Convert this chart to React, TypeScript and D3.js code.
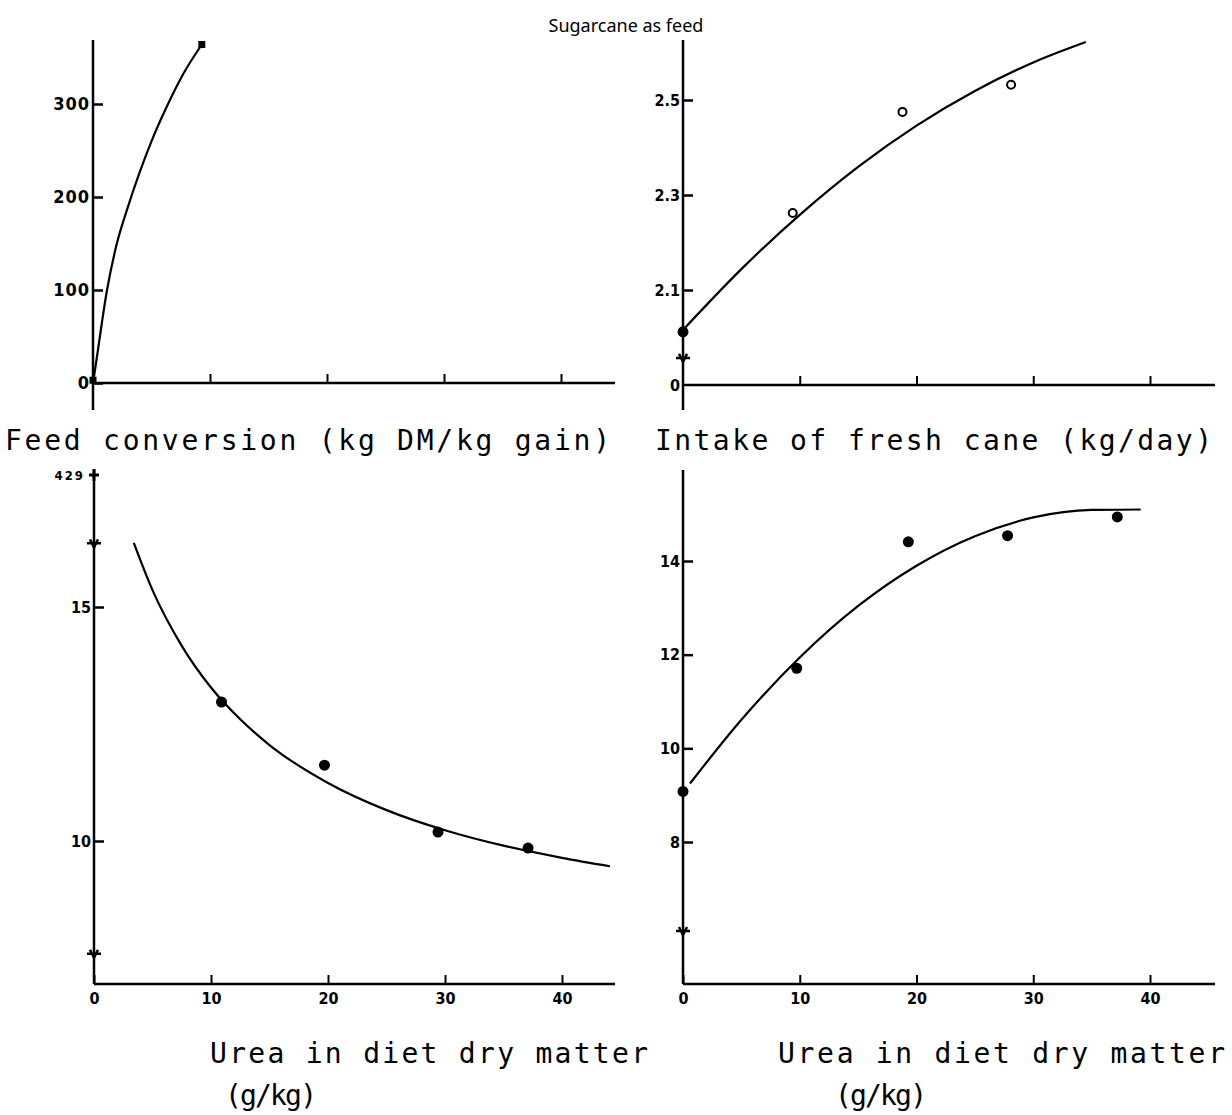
import React, { useEffect, useRef } from 'react';
import * as d3 from 'd3';

const TITLE = 'Sugarcane as feed';
const ureaTicks = [0, 10, 20, 30, 40];

// top left: feed conversion
const fcCurveX = [0, 0.3, 1.2, 2.0, 3.0, 4.0, 5.1, 6.3, 7.7, 9.3];
const fcCurveY = [0, 25, 100, 148, 190, 227, 263, 297, 332, 364];
const fcPointX = [0, 9.3];
const fcPointY = [3, 364];
const fcTicks = [0, 100, 200, 300];

// top right: intake of fresh cane
const inCurveX = [0, 5, 10, 15, 20, 25, 30, 34.5];
const inCurveY = [2.016, 2.144, 2.258, 2.359, 2.446, 2.519, 2.579, 2.622];
const inPointX = [0, 9.4, 18.8, 28.1];
const inPointY = [2.012, 2.262, 2.475, 2.532];
const inTicks = [1.9, 2.1, 2.3, 2.5];
const inTickLabels = ['0', '2.1', '2.3', '2.5'];

// bottom left: feed conversion vs urea
const blCurveX = [3.4, 5, 7.5, 10, 12.5, 15, 20, 25, 30, 35, 40, 44.1];
const blCurveY = [16.37, 15.36, 14.17, 13.28, 12.6, 12.05, 11.24, 10.66, 10.23, 9.9, 9.64, 9.46];
const blPointX = [10.9, 19.7, 29.4, 37.1];
const blPointY = [12.97, 11.62, 10.19, 9.85];
const blTicks = [10, 15];

// bottom right: intake vs urea
const brCurveX = [0.6, 5, 10, 15, 20, 25, 30, 35, 39.2];
const brCurveY = [9.25, 10.61, 11.94, 13.04, 13.9, 14.53, 14.93, 15.09, 15.1];
const brPointX = [0, 9.74, 19.3, 27.8, 37.2];
const brPointY = [9.08, 11.71, 14.41, 14.54, 14.94];
const brTicks = [8, 10, 12, 14];

const zip = (a: number[], b: number[]) => a.map((v, i) => [v, b[i]] as [number, number]);

const panels = [
  {
    x0: 93, x40: 561, xEnd: 615, axisY: 383, yTop: 40, yBottom: 410,
    yRef: [0, 300], yPx: [383, 104],
    ticks: fcTicks, tickLabels: fcTicks.map(String), xLabels: false,
    curve: zip(fcCurveX, fcCurveY), points: zip(fcPointX, fcPointY),
    marker: 'square', breaks: [] as number[],
  },
  {
    x0: 683, x40: 1150, xEnd: 1215, axisY: 385, yTop: 40, yBottom: 410,
    yRef: [2.1, 2.5], yPx: [290, 100],
    ticks: inTicks, tickLabels: inTickLabels, xLabels: false,
    curve: zip(inCurveX, inCurveY), points: zip(inPointX, inPointY),
    marker: 'open', breaks: [1.957],
  },
  {
    x0: 94, x40: 562, xEnd: 615, axisY: 984, yTop: 470, yBottom: 984,
    yRef: [10, 15], yPx: [841, 607],
    ticks: blTicks, tickLabels: blTicks.map(String), xLabels: true,
    curve: zip(blCurveX, blCurveY), points: zip(blPointX, blPointY),
    marker: 'dot', breaks: [16.36, 7.59],
  },
  {
    x0: 683, x40: 1150, xEnd: 1215, axisY: 984, yTop: 470, yBottom: 984,
    yRef: [8, 14], yPx: [842, 561],
    ticks: brTicks, tickLabels: brTicks.map(String), xLabels: true,
    curve: zip(brCurveX, brCurveY), points: zip(brPointX, brPointY),
    marker: 'dot', breaks: [6.1],
  },
];

const monoFont = '"DejaVu Sans Mono", monospace';
const tickFont = '"DejaVu Sans Condensed", "DejaVu Sans", sans-serif';

const App = () => {
  const svgRef = useRef<SVGSVGElement>(null);

  useEffect(() => {
    const svg = d3.select(svgRef.current);
    svg.selectAll('*').remove();

    svg.append('text')
      .attr('x', 626).attr('y', 32)
      .attr('text-anchor', 'middle')
      .attr('font-family', '"Noto Sans", "Open Sans", sans-serif')
      .attr('font-size', 18)
      .text(TITLE);

    panels.forEach((p, idx) => {
      const x = d3.scaleLinear().domain([0, 40]).range([p.x0, p.x40]);
      const y = d3.scaleLinear().domain(p.yRef).range(p.yPx);
      const g = svg.append('g');

      // axis lines
      g.append('line')
        .attr('x1', p.x0).attr('x2', p.x0)
        .attr('y1', p.yTop).attr('y2', p.yBottom)
        .attr('stroke', '#000').attr('stroke-width', 2.5);
      g.append('line')
        .attr('x1', p.x0).attr('x2', p.xEnd)
        .attr('y1', p.axisY).attr('y2', p.axisY)
        .attr('stroke', '#000').attr('stroke-width', 2.5);

      // y axis ticks, pointing inward
      const yAxis = g.append('g')
        .attr('transform', `translate(${p.x0},0)`)
        .call(d3.axisLeft(y)
          .tickValues(p.ticks)
          .tickSize(-10)
          .tickSizeOuter(0)
          .tickPadding(3)
          .tickFormat((_d, i) => p.tickLabels[i]));
      yAxis.select('.domain').remove();
      yAxis.selectAll('line').attr('stroke-width', 2.5)
        .attr('display', (d: any) => (idx === 1 && d === 1.9) ? 'none' : null);
      yAxis.selectAll('text')
        .attr('font-family', tickFont)
        .attr('font-weight', 'bold')
        .attr('font-size', idx === 0 ? 18 : 16)
        .attr('letter-spacing', idx === 0 ? 1 : 0);

      // x axis ticks
      const xAxis = g.append('g')
        .attr('transform', `translate(0,${p.axisY})`)
        .call(d3.axisBottom(x)
          .tickValues(p.xLabels ? ureaTicks : ureaTicks.slice(1))
          .tickSize(-9)
          .tickSizeOuter(0)
          .tickPadding(9)
          .tickFormat(p.xLabels ? d3.format('d') : () => ''));
      xAxis.select('.domain').remove();
      xAxis.selectAll('line').attr('stroke-width', 2);
      xAxis.selectAll('text')
        .attr('font-family', tickFont)
        .attr('font-weight', 'bold')
        .attr('font-size', 16);

      // axis breaks
      p.breaks.forEach(b => {
        g.append('path')
          .attr('d', `M${p.x0 - 7},${y(b)}L${p.x0 + 7},${y(b)}M${p.x0 - 4},${y(b) - 4}L${p.x0},${y(b) + 4}L${p.x0 + 4},${y(b) - 4}`)
          .attr('fill', 'none').attr('stroke', '#000').attr('stroke-width', 2.5);
      });

      // fitted curve
      const line = d3.line<[number, number]>()
        .x(d => x(d[0]))
        .y(d => y(d[1]))
        .curve(d3.curveMonotoneX);
      g.append('path')
        .datum(p.curve)
        .attr('d', line)
        .attr('fill', 'none')
        .attr('stroke', '#000')
        .attr('stroke-width', 2.2);

      // points
      if (p.marker === 'square') {
        g.selectAll('rect.pt').data(p.points).enter().append('rect')
          .attr('x', d => x(d[0]) - 3.5).attr('y', d => y(d[1]) - 3.5)
          .attr('width', 7).attr('height', 7).attr('fill', '#000');
      } else if (p.marker === 'open') {
        g.selectAll('circle.pt').data(p.points).enter().append('circle')
          .attr('cx', d => x(d[0])).attr('cy', d => y(d[1]))
          .attr('r', (_d, i) => i === 0 ? 4.5 : 4)
          .attr('fill', (_d, i) => i === 0 ? '#000' : '#fff')
          .attr('stroke', '#000').attr('stroke-width', 2);
      } else {
        g.selectAll('circle.pt').data(p.points).enter().append('circle')
          .attr('cx', d => x(d[0])).attr('cy', d => y(d[1]))
          .attr('r', 5.5).attr('fill', '#000');
      }

      // odd "429" mark on bottom left axis
      if (idx === 2) {
        const v = y.invert(475);
        g.append('text')
          .attr('x', p.x0 - 9).attr('y', y(v) + 5)
          .attr('text-anchor', 'end')
          .attr('font-family', tickFont).attr('font-weight', 'bold')
          .attr('font-size', 13).attr('letter-spacing', 2)
          .text('429');
        g.append('path')
          .attr('d', `M${p.x0 - 5},${y(v)}L${p.x0 + 5},${y(v)}M${p.x0},${y(v) - 6}L${p.x0},${y(v) + 6}`)
          .attr('stroke', '#000').attr('stroke-width', 3);
      }
    });

    // axis titles
    const titles = [
      { t: 'Feed conversion (kg DM/kg gain)', x: 5, y: 450, w: 605 },
      { t: 'Intake of fresh cane (kg/day)', x: 655, y: 450, w: 557 },
      { t: 'Urea in diet dry matter', x: 210, y: 1063, w: 438 },
      { t: 'Urea in diet dry matter', x: 778, y: 1063, w: 447 },
      { t: '(g/kg)', x: 225, y: 1105, w: 92 },
      { t: '(g/kg)', x: 835, y: 1105, w: 92 },
    ];
    svg.selectAll('text.title').data(titles).enter().append('text')
      .attr('class', 'title')
      .attr('x', d => d.x).attr('y', d => d.y)
      .attr('font-family', monoFont)
      .attr('font-size', 28)
      .attr('textLength', d => d.w)
      .attr('lengthAdjust', 'spacing')
      .text(d => d.t);
  }, []);

  return (
    <svg ref={svgRef} width={1232} height={1115}
      style={{ position: 'absolute', left: 0, top: 0, background: '#fff' }} />
  );
};

export default App;
